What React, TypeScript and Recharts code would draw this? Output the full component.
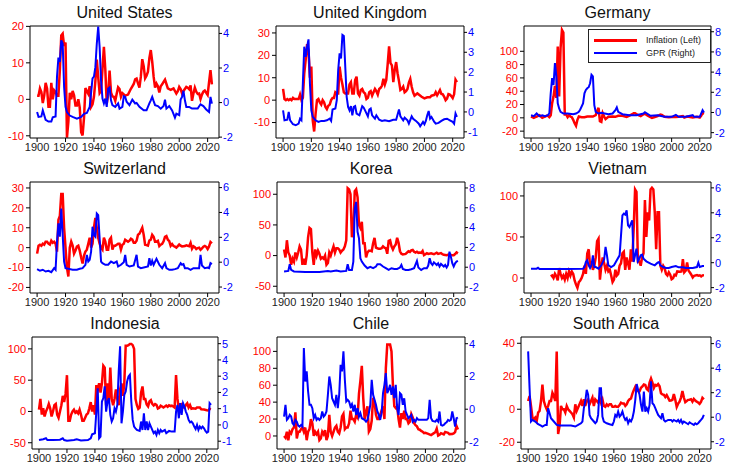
import React from 'react'
import { LineChart, Line, XAxis, YAxis, ReferenceLine } from 'recharts'

type Pt = [number, number]

const FONT = '"Liberation Sans", Arial, sans-serif'
const YEAR_TICKS = [1900, 1920, 1940, 1960, 1980, 2000, 2020]
const YEAR_DOMAIN: [number, number] = [1895, 2028]

// ---- United States ----
const usInflation: Pt[] = [[1900,1],[1901,1],[1902,3],[1903,2],[1904,-1],[1905,1],[1906,4.5],[1907,3],[1908,-2],[1909,-2],[1910,4.5],[1911,0],[1912,2.5],[1913,2],[1914,1],[1915,1],[1916,8],[1917,17.5],[1918,18],[1919,14.6],[1920,15.6],[1921,-10.5],[1922,-6.1],[1923,1.8],[1924,0],[1925,2.3],[1926,1.1],[1927,-1.7],[1928,-1.7],[1929,0],[1930,-2.3],[1931,-9],[1932,-9.9],[1933,-5.1],[1934,3.1],[1935,2.2],[1936,1.5],[1937,3.6],[1938,-2.1],[1939,-1.4],[1940,0.7],[1941,5],[1942,10.9],[1943,6.1],[1944,1.7],[1945,2.3],[1946,8.3],[1947,14.4],[1948,8.1],[1949,-1.2],[1950,1.3],[1951,7.9],[1952,1.9],[1953,0.8],[1954,0.7],[1955,-0.4],[1956,1.5],[1957,3.3],[1958,2.8],[1959,0.7],[1960,1.7],[1962,1],[1964,1.3],[1966,2.9],[1968,4.2],[1969,5.5],[1970,5.7],[1971,4.4],[1972,3.2],[1973,6.2],[1974,11],[1975,9.1],[1976,5.8],[1977,6.5],[1978,7.6],[1979,11.3],[1980,13.5],[1981,10.3],[1982,6.2],[1983,3.2],[1984,4.3],[1985,3.6],[1986,1.9],[1987,3.6],[1988,4.1],[1989,4.8],[1990,5.4],[1991,4.2],[1992,3],[1994,2.6],[1996,3],[1998,1.6],[1999,2.2],[2000,3.4],[2001,2.8],[2002,1.6],[2003,2.3],[2005,3.4],[2006,3.2],[2007,2.8],[2008,3.8],[2009,-0.4],[2010,1.6],[2011,3.2],[2012,2.1],[2013,1.5],[2014,1.6],[2015,0.1],[2016,1.3],[2017,2.1],[2018,2.4],[2019,1.8],[2020,1.2],[2021,4.7],[2022,8],[2023,4.1]]
const usGpr: Pt[] = [[1900,-0.54],[1901,-0.83],[1903,-0.8],[1904,-0.45],[1906,-1],[1908,-1.1],[1910,-1.1],[1911,-0.85],[1913,-0.8],[1914,1.5],[1915,2.6],[1916,2.35],[1917,3.6],[1918,3.4],[1919,0.9],[1920,-0.25],[1921,-0.55],[1923,-0.75],[1925,-0.83],[1928,-0.93],[1931,-0.83],[1933,-0.65],[1935,-0.6],[1937,-0.25],[1939,1.4],[1940,1.5],[1941,2.05],[1942,3.4],[1943,4.4],[1944,3.2],[1945,1.3],[1946,0.23],[1947,-0.05],[1948,0.23],[1949,-0.25],[1950,0.8],[1951,0.87],[1952,0.13],[1953,-0.15],[1955,-0.25],[1957,-0.05],[1958,-0.35],[1960,-0.25],[1961,0.37],[1962,0.33],[1963,0.05],[1965,-0.15],[1967,0.17],[1969,-0.05],[1970,-0.02],[1972,-0.25],[1975,-0.45],[1977,-0.45],[1979,-0.05],[1980,0.13],[1981,0.33],[1982,0.08],[1983,-0.15],[1985,-0.2],[1987,-0.35],[1989,-0.2],[1990,0.17],[1991,-0.35],[1993,-0.2],[1995,-0.45],[1997,-0.87],[1998,-0.64],[2000,-0.73],[2001,0.17],[2002,0.33],[2003,0.68],[2004,0.13],[2005,-0.25],[2007,-0.25],[2009,-0.35],[2011,-0.35],[2013,-0.35],[2015,-0.1],[2017,-0.2],[2019,-0.4],[2021,-0.54],[2022,0.33],[2023,-0.06]]

// ---- United Kingdom ----
const ukInflation: Pt[] = [[1900,5],[1901,0.5],[1902,0],[1903,0.5],[1904,0],[1905,0.5],[1906,0],[1907,1],[1908,0.5],[1909,0.5],[1910,0.5],[1911,0.5],[1912,2.5],[1913,0],[1914,1],[1915,12],[1916,18],[1917,25],[1918,22],[1919,10],[1920,15],[1921,-9],[1922,-14],[1923,-6],[1924,0],[1925,0.5],[1926,-1],[1927,-2],[1928,0],[1929,-1],[1930,-3],[1931,-4],[1932,-2.5],[1933,-2],[1934,0],[1935,1],[1936,1],[1937,3.5],[1938,3],[1939,3],[1940,15],[1941,10],[1942,7],[1943,3.5],[1944,3],[1945,3],[1946,3],[1947,7],[1948,8],[1949,3],[1950,3],[1951,9],[1952,10.5],[1953,3],[1954,2],[1955,4.5],[1956,5],[1957,3.5],[1958,3],[1959,0.5],[1960,1],[1961,3.5],[1962,4],[1963,2],[1964,3.5],[1965,5],[1966,4],[1967,2.5],[1968,5],[1969,5.5],[1970,6.5],[1971,9.5],[1972,7],[1973,9],[1974,16],[1975,24],[1976,16.5],[1977,15.5],[1978,8],[1979,13.5],[1980,17],[1981,12],[1982,8.5],[1983,4.5],[1984,5],[1985,6],[1986,3.5],[1987,4],[1988,5],[1989,7.8],[1990,9.5],[1991,6],[1992,3.5],[1993,2],[1994,2.5],[1995,3],[1996,2.5],[1998,1.5],[2000,0.8],[2002,1.3],[2004,1.3],[2005,2],[2007,2.3],[2008,3.6],[2009,2.2],[2010,3.3],[2011,4.5],[2012,2.8],[2013,2.6],[2014,1.5],[2015,0],[2016,0.7],[2017,2.7],[2018,2.5],[2019,1.8],[2020,0.9],[2021,2.6],[2022,9.1],[2023,8]]
const ukGpr: Pt[] = [[1900,0.08],[1901,-0.42],[1903,-0.39],[1904,0],[1905,-0.42],[1907,-0.62],[1909,-0.67],[1911,-0.59],[1912,-0.34],[1913,-0.42],[1914,1.43],[1915,3.28],[1916,2.77],[1917,3.28],[1918,3.65],[1919,1.43],[1920,0.08],[1921,-0.25],[1923,-0.42],[1925,-0.5],[1927,-0.45],[1929,-0.45],[1931,-0.42],[1933,-0.34],[1934,-0.45],[1935,0.12],[1937,0.17],[1938,0.59],[1939,2.1],[1940,2.94],[1941,2.69],[1942,3.87],[1943,3.82],[1944,2.27],[1945,0.76],[1946,0.25],[1947,0.08],[1948,0.29],[1949,-0.17],[1950,0.25],[1951,0.29],[1952,-0.08],[1954,-0.17],[1956,0.29],[1957,0.22],[1958,0.08],[1960,-0.22],[1961,0.12],[1962,0.17],[1963,-0.17],[1965,-0.34],[1966,-0.17],[1968,-0.39],[1970,-0.45],[1972,-0.42],[1975,-0.47],[1978,-0.39],[1980,-0.39],[1982,0.12],[1983,-0.22],[1985,-0.42],[1986,-0.29],[1988,-0.42],[1989,-0.59],[1991,-0.22],[1992,-0.34],[1994,-0.45],[1996,-0.59],[1997,-0.72],[1999,-0.5],[2000,-0.62],[2001,-0.45],[2002,-0.17],[2003,0.05],[2004,-0.34],[2005,-0.25],[2007,-0.5],[2008,-0.59],[2010,-0.55],[2012,-0.45],[2014,-0.37],[2016,-0.34],[2018,-0.42],[2020,-0.5],[2021,-0.59],[2022,-0.08],[2023,-0.25]]

// ---- Germany ----
const deInflation: Pt[] = [[1900,2],[1901,1],[1902,0],[1903,1],[1904,2],[1905,3],[1906,4],[1907,2],[1908,0],[1909,1],[1910,2],[1911,3],[1912,3],[1913,1],[1914,4],[1915,22],[1916,32],[1917,48],[1918,30],[1919,107],[1920,32],[1921,105],[1922,132],[1923,128],[1924,5],[1925,5],[1926,1],[1927,4],[1928,2],[1929,1],[1930,-3],[1931,-8],[1932,-12],[1933,-3],[1934,2],[1936,1],[1938,1],[1940,2],[1942,2],[1944,2],[1946,4],[1947,10],[1948,15],[1949,-5],[1950,-6],[1951,7],[1952,2],[1953,-2],[1955,1.5],[1958,2],[1960,1.5],[1962,3],[1965,3.2],[1968,1.5],[1970,3.5],[1972,5.5],[1973,7],[1974,7],[1976,4.3],[1978,2.7],[1980,5.4],[1981,6.3],[1983,3.3],[1986,-0.1],[1988,1.2],[1990,2.7],[1992,5],[1993,4.5],[1995,1.7],[1998,1],[2000,1.4],[2003,1.1],[2005,1.5],[2008,2.6],[2009,0.3],[2011,2],[2015,0.5],[2018,1.7],[2020,0.5],[2021,3.1],[2022,6.9],[2023,5.9]]
const deGpr: Pt[] = [[1900,-0.27],[1902,-0.37],[1904,-0.1],[1906,-0.37],[1908,-0.27],[1910,-0.37],[1912,-0.27],[1913,-0.1],[1914,1.9],[1915,3.4],[1916,2.73],[1917,4.9],[1918,3.57],[1919,0.9],[1920,0.4],[1921,0.07],[1923,-0.1],[1926,-0.1],[1930,-0.17],[1932,-0.1],[1934,0.07],[1935,0.3],[1937,0.9],[1938,1.9],[1939,2.23],[1940,2.4],[1941,2.5],[1942,2.9],[1943,3.73],[1944,3.57],[1945,0.73],[1946,0.07],[1948,-0.1],[1950,-0.03],[1955,-0.17],[1958,-0.1],[1960,0.23],[1961,0.5],[1962,0.07],[1965,-0.17],[1970,-0.27],[1975,-0.27],[1980,-0.1],[1981,0.03],[1985,-0.33],[1990,-0.27],[1995,-0.43],[2000,-0.43],[2003,-0.23],[2005,-0.43],[2010,-0.43],[2015,-0.27],[2016,-0.43],[2020,-0.43],[2022,0.23],[2023,0]]

// ---- Switzerland ----
const chInflation: Pt[] = [[1900,-3],[1901,1],[1902,1.5],[1903,1],[1904,2],[1905,1.5],[1906,3],[1907,3],[1908,2],[1909,1.5],[1910,3.5],[1911,2.5],[1912,3],[1913,2],[1914,-2],[1915,14],[1916,16],[1917,27],[1918,27],[1919,10],[1920,0],[1921,-10],[1922,-14.5],[1923,0],[1924,3],[1925,1],[1926,-3],[1927,-1.5],[1928,0.5],[1929,1],[1930,-1.5],[1931,-5],[1932,-8],[1933,-4],[1934,-2],[1935,-1],[1936,2],[1937,5],[1938,0],[1939,2],[1940,10],[1941,15],[1942,10],[1943,5],[1944,2],[1945,0],[1946,-1],[1947,5],[1948,3],[1949,-1],[1950,-1],[1951,4],[1952,5],[1953,-1],[1954,1],[1955,1],[1956,1.5],[1957,2],[1958,2],[1959,-1],[1960,1.5],[1961,2],[1962,4],[1963,3.5],[1964,3],[1965,3.5],[1966,4.5],[1967,4],[1968,2.5],[1969,2.5],[1970,3.5],[1971,6.5],[1972,7],[1973,8.5],[1974,10],[1975,6.5],[1976,1.5],[1977,1.3],[1978,1],[1979,3.6],[1980,4],[1981,6.5],[1982,5.5],[1983,3],[1984,3],[1985,3.4],[1986,0.8],[1987,1.5],[1988,1.9],[1989,3.2],[1990,5.4],[1991,5.8],[1992,4],[1993,3.3],[1994,0.9],[1995,1.8],[1996,0.8],[1997,0.5],[1998,0],[1999,0.8],[2000,1.6],[2001,1],[2002,0.6],[2004,0.8],[2005,1.2],[2007,0.7],[2008,2.4],[2009,-0.5],[2010,0.7],[2011,0.2],[2012,-0.7],[2013,-0.2],[2014,0],[2015,-1.1],[2016,-0.4],[2017,0.5],[2018,0.9],[2019,0.4],[2020,-0.7],[2021,0.6],[2022,2.8],[2023,2.1]]
const chGpr: Pt[] = [[1900,-0.56],[1902,-0.69],[1904,-0.61],[1906,-0.75],[1908,-0.69],[1910,-0.8],[1912,-0.48],[1913,-0.61],[1914,1.6],[1915,3.12],[1916,2.05],[1917,4.32],[1918,2.19],[1919,0.05],[1920,-0.48],[1922,-0.53],[1925,-0.61],[1928,-0.61],[1930,-0.53],[1932,-0.48],[1934,-0.21],[1935,0.59],[1936,0.05],[1937,0.19],[1938,0.85],[1939,2.85],[1940,2.19],[1941,2.05],[1942,3.92],[1943,3.79],[1944,1.92],[1945,0.05],[1946,-0.08],[1948,-0.21],[1950,-0.21],[1952,0.05],[1954,-0.08],[1956,0.05],[1957,-0.35],[1959,-0.21],[1961,0],[1962,0.59],[1963,-0.21],[1965,-0.35],[1968,-0.27],[1970,0.59],[1971,-0.35],[1973,-0.48],[1975,-0.43],[1978,-0.35],[1979,0.32],[1980,-0.27],[1981,0.11],[1982,-0.21],[1984,0.27],[1986,-0.21],[1988,-0.48],[1990,-0.08],[1991,-0.48],[1993,-0.61],[1995,-0.61],[1997,-0.56],[1999,-0.48],[2001,-0.08],[2002,-0.21],[2003,-0.16],[2004,-0.48],[2006,-0.48],[2008,-0.61],[2010,-0.48],[2012,-0.48],[2014,-0.48],[2015,0.59],[2016,-0.27],[2018,-0.48],[2020,-0.43],[2021,-0.48],[2022,-0.08],[2023,-0.16]]

// ---- Korea ----
const krInflation: Pt[] = [[1900,10],[1901,-3],[1902,25],[1903,5],[1904,0],[1905,-15],[1906,-5],[1907,-10],[1908,5],[1909,-3],[1910,5],[1911,15],[1912,10],[1913,-15],[1914,-5],[1915,-15],[1916,0],[1917,30],[1918,45],[1919,43],[1920,5],[1921,-15],[1922,10],[1923,0],[1924,8],[1925,3],[1926,-5],[1927,-3],[1928,-5],[1929,0],[1930,-15],[1931,-12],[1932,5],[1933,0],[1934,8],[1935,15],[1936,5],[1937,12],[1938,12],[1939,10],[1940,5],[1941,8],[1942,10],[1943,15],[1944,25],[1945,110],[1946,108],[1947,100],[1948,30],[1949,40],[1950,105],[1951,108],[1952,95],[1953,50],[1954,45],[1955,55],[1956,20],[1957,20],[1958,-3],[1959,5],[1960,8],[1961,8],[1962,7],[1963,20],[1964,29],[1965,13],[1966,12],[1967,11],[1968,11],[1969,12],[1970,15],[1971,13],[1972,12],[1973,3],[1974,24],[1975,25],[1976,15],[1977,10],[1978,15],[1979,18],[1980,29],[1981,21],[1982,7],[1983,3],[1984,2],[1986,2.8],[1988,7],[1989,6],[1990,8.6],[1991,9.3],[1992,6.2],[1993,4.8],[1994,6.3],[1995,4.5],[1996,5],[1997,4.4],[1998,7.5],[1999,0.8],[2000,2.3],[2001,4],[2002,2.8],[2004,3.6],[2006,2.2],[2008,4.7],[2009,2.8],[2011,4],[2012,2.2],[2013,1.3],[2015,0.7],[2017,1.9],[2019,0.4],[2020,0.5],[2021,2.5],[2022,5.1],[2023,3.6]]
const krGpr: Pt[] = [[1900,-0.43],[1903,-0.37],[1904,0.3],[1905,-0.27],[1907,-0.43],[1915,-0.47],[1925,-0.47],[1931,-0.37],[1933,-0.43],[1937,-0.33],[1940,-0.43],[1944,-0.37],[1945,0.3],[1946,-0.27],[1948,-0.27],[1949,0.57],[1950,5.92],[1951,6.59],[1952,3.58],[1953,2.91],[1954,0.9],[1955,0.57],[1957,0.17],[1959,-0.1],[1961,0.03],[1963,-0.1],[1965,0.07],[1966,0.3],[1968,0.3],[1970,0.07],[1972,-0.1],[1974,-0.27],[1976,-0.1],[1978,-0.17],[1980,-0.17],[1982,-0.03],[1983,0.23],[1984,-0.17],[1986,-0.27],[1988,-0.27],[1990,-0.2],[1992,-0.1],[1994,0.64],[1995,-0.03],[1997,-0.27],[1999,-0.1],[2001,-0.1],[2002,0.17],[2003,0.9],[2004,0.4],[2005,0.23],[2006,0.5],[2008,0.23],[2009,0.4],[2010,0.07],[2011,0.33],[2013,0.07],[2014,0.23],[2015,-0.03],[2016,0.23],[2017,1.57],[2018,1.07],[2019,0.4],[2020,0.07],[2021,0.4],[2022,0.57],[2023,0.64]]

// ---- Vietnam ----
const vnInflation: Pt[] = [[1914,2],[1915,3],[1916,0],[1917,5],[1918,2],[1919,-3],[1920,12],[1921,5],[1922,0],[1923,3],[1924,-2],[1925,5],[1926,0],[1927,8],[1928,3],[1929,8],[1930,5],[1931,-3],[1932,-8],[1933,-12],[1934,-5],[1935,-3],[1936,0],[1937,5],[1938,15],[1939,5],[1940,30],[1941,35],[1942,15],[1943,20],[1944,10],[1945,15],[1946,25],[1947,45],[1948,48],[1949,-2],[1950,15],[1951,25],[1952,18],[1953,10],[1954,15],[1955,8],[1956,10],[1957,3],[1958,-5],[1959,-2],[1960,10],[1961,3],[1962,5],[1963,15],[1964,18],[1965,30],[1966,32],[1967,10],[1968,25],[1969,18],[1970,10],[1971,35],[1972,20],[1973,60],[1974,108],[1975,105],[1976,20],[1977,20],[1978,15],[1979,25],[1980,30],[1981,95],[1982,50],[1983,80],[1984,70],[1985,108],[1986,110],[1987,108],[1988,80],[1989,35],[1990,80],[1991,80],[1992,15],[1993,10],[1994,15],[1995,12],[1996,5],[1997,3],[1998,7],[1999,4],[2000,-1.6],[2001,-0.4],[2002,4],[2003,3],[2004,8],[2006,7.5],[2007,8],[2008,23],[2009,7],[2010,9],[2011,19],[2012,9],[2013,6.6],[2014,4],[2015,0.6],[2016,2.7],[2018,3.5],[2019,2.8],[2020,3.2],[2021,1.8],[2022,3.2],[2023,3.3]]
const vnGpr: Pt[] = [[1900,-0.48],[1904,-0.48],[1905,-0.4],[1906,-0.5],[1915,-0.5],[1925,-0.5],[1937,-0.48],[1938,-0.35],[1939,0.05],[1940,0.19],[1941,-0.21],[1942,-0.43],[1943,-0.21],[1944,0.59],[1945,-0.35],[1946,-0.35],[1948,-0.48],[1950,-0.21],[1952,0.27],[1953,1.26],[1954,0.59],[1955,-0.21],[1957,-0.35],[1959,-0.21],[1961,0.19],[1963,0.59],[1964,2.19],[1965,3.8],[1966,3.93],[1967,3.85],[1968,4.2],[1969,2.99],[1970,2.86],[1971,3.13],[1972,3.4],[1973,0.05],[1974,0.59],[1975,1.12],[1976,0.11],[1977,0.32],[1978,0.59],[1979,0.64],[1980,0.32],[1982,0.11],[1985,-0.08],[1988,-0.21],[1990,0],[1991,0.05],[1992,-0.21],[1994,-0.35],[1996,-0.43],[1998,-0.43],[2000,-0.35],[2003,-0.27],[2005,-0.37],[2008,-0.37],[2010,-0.43],[2012,-0.43],[2015,-0.43],[2018,-0.35],[2019,0],[2020,-0.35],[2022,-0.27],[2023,-0.27]]

// ---- Indonesia ----
const idInflation: Pt[] = [[1900,3],[1901,20],[1902,-5],[1903,5],[1904,-8],[1905,0],[1906,5],[1907,12],[1908,5],[1909,-8],[1910,0],[1911,10],[1912,12],[1913,-5],[1914,-10],[1915,0],[1916,10],[1917,25],[1918,15],[1919,28],[1920,58],[1921,-15],[1922,-15],[1923,-5],[1924,0],[1925,3],[1926,-2],[1927,0],[1928,-3],[1929,3],[1930,-5],[1931,-15],[1932,-15],[1933,-10],[1934,-5],[1935,-3],[1936,5],[1937,15],[1938,0],[1939,10],[1940,-5],[1941,42],[1942,35],[1943,45],[1944,30],[1945,45],[1946,73],[1947,70],[1948,10],[1949,45],[1950,15],[1951,70],[1952,20],[1953,10],[1954,20],[1955,35],[1956,20],[1957,10],[1958,35],[1959,45],[1960,25],[1961,45],[1962,105],[1963,105],[1964,106],[1965,108],[1966,108],[1967,106],[1968,100],[1969,20],[1970,10],[1971,4],[1972,6],[1973,30],[1974,40],[1975,20],[1976,20],[1977,11],[1978,8],[1979,16],[1980,18],[1981,12],[1982,9.5],[1983,11.8],[1984,10.5],[1985,4.7],[1986,5.8],[1987,9.3],[1988,8],[1989,6.4],[1990,7.8],[1991,9.4],[1992,7.5],[1993,9.7],[1994,8.5],[1995,9.4],[1996,8],[1997,6.2],[1998,58],[1999,20.5],[2000,3.7],[2001,11.5],[2002,11.9],[2003,6.8],[2004,6.1],[2005,10.5],[2006,13.1],[2007,6.4],[2008,10.2],[2009,4.4],[2010,5.1],[2012,4.3],[2013,6.4],[2015,6.4],[2016,3.5],[2018,3.2],[2020,2],[2021,1.6],[2022,4.2],[2023,3.7]]
const idGpr: Pt[] = [[1900,-0.93],[1903,-0.88],[1905,-0.82],[1906,-0.93],[1910,-0.93],[1915,-0.91],[1917,-0.82],[1918,-0.93],[1920,-0.97],[1925,-0.93],[1927,-0.88],[1930,-0.95],[1935,-0.93],[1937,-0.82],[1938,-0.58],[1940,-0.51],[1941,0.82],[1942,2.26],[1943,-0.82],[1944,-0.72],[1945,1.44],[1946,1.65],[1947,2.37],[1948,0.82],[1949,1.44],[1950,1.65],[1951,0.62],[1952,0.21],[1953,0.41],[1954,1.03],[1955,0.82],[1956,1.23],[1957,3.29],[1958,4.84],[1959,0.1],[1960,0.82],[1961,1.85],[1962,2.06],[1963,2.67],[1964,2.98],[1965,3.09],[1966,1.44],[1967,0.31],[1968,-0.1],[1969,-0.21],[1970,-0.31],[1972,-0.37],[1973,0.21],[1974,-0.31],[1975,0.72],[1976,-0.31],[1977,0.21],[1978,-0.31],[1979,0.1],[1980,-0.1],[1981,-0.31],[1982,-0.51],[1983,-0.41],[1984,-0.62],[1985,-0.31],[1986,-0.51],[1987,-0.31],[1988,-0.41],[1990,-0.31],[1991,-0.51],[1993,-0.37],[1995,-0.41],[1997,-0.41],[1998,0.82],[1999,1.23],[2000,0.41],[2001,1.34],[2002,0.62],[2003,1.34],[2004,1.13],[2005,0.82],[2006,0.62],[2007,0.31],[2008,0.16],[2009,0.21],[2010,0.1],[2011,-0.1],[2012,-0.25],[2013,0],[2014,-0.31],[2015,-0.1],[2016,-0.21],[2017,-0.1],[2018,-0.21],[2019,-0.37],[2020,-0.47],[2021,-0.41],[2022,1.34],[2023,1.23]]

// ---- Chile ----
const clInflation: Pt[] = [[1900,0],[1901,-2],[1902,5],[1903,-5],[1904,5],[1905,3],[1906,8],[1907,10],[1908,28],[1909,-3],[1910,5],[1911,5],[1912,8],[1913,10],[1914,5],[1915,10],[1916,-5],[1917,5],[1918,8],[1919,20],[1920,15],[1921,0],[1922,5],[1923,2],[1924,5],[1925,-5],[1926,-3],[1927,5],[1928,2],[1929,7],[1930,-5],[1931,0],[1932,25],[1933,5],[1934,0],[1935,5],[1936,10],[1937,12],[1938,5],[1939,3],[1940,10],[1941,23],[1942,26],[1943,8],[1944,10],[1945,10],[1946,15],[1947,30],[1948,20],[1949,20],[1950,17],[1951,25],[1952,22],[1953,50],[1954,65],[1955,83],[1956,45],[1957,20],[1958,28],[1959,35],[1960,5],[1961,8],[1962,18],[1963,45],[1964,40],[1965,25],[1966,20],[1967,20],[1968,25],[1969,30],[1970,35],[1971,20],[1972,80],[1973,108],[1974,108],[1975,108],[1976,100],[1977,60],[1978,35],[1979,33],[1980,35],[1981,20],[1982,10],[1983,27],[1984,20],[1985,30],[1986,20],[1987,20],[1988,15],[1989,17],[1990,26],[1991,22],[1992,15],[1993,12.7],[1994,11.4],[1995,8],[1996,7.4],[1997,6],[1998,5],[1999,3.3],[2000,3.8],[2002,2.5],[2004,1.1],[2006,3.4],[2007,4.4],[2008,8.7],[2009,0.4],[2010,1.4],[2011,3.3],[2013,1.8],[2014,4.7],[2015,4.3],[2016,3.8],[2017,2.2],[2019,2.3],[2020,3],[2021,4.5],[2022,11.6],[2023,7.6]]
const clGpr: Pt[] = [[1900,-0.45],[1901,0.27],[1902,-0.65],[1903,-0.55],[1904,-0.35],[1905,-0.45],[1906,-0.86],[1907,-0.96],[1908,-0.65],[1909,-0.76],[1910,-1],[1911,-1.06],[1912,-0.96],[1913,-1.06],[1914,3.73],[1915,1.69],[1916,2.31],[1917,1.08],[1918,0.27],[1919,0.27],[1920,0.06],[1921,-0.55],[1922,-0.35],[1923,-0.65],[1924,-0.55],[1925,-0.65],[1926,-0.55],[1927,-0.14],[1928,-0.45],[1929,-0.35],[1930,-0.14],[1931,0.88],[1932,2],[1933,1.49],[1934,0.67],[1935,0.47],[1936,0.27],[1937,0.88],[1938,0.06],[1939,0.88],[1940,2.71],[1941,2.31],[1942,3.53],[1943,1.8],[1944,0.47],[1945,0.57],[1946,0.47],[1947,0.16],[1948,0.31],[1949,-0.14],[1950,0.27],[1951,-0.35],[1952,0.06],[1953,-0.45],[1954,-0.24],[1955,-0.55],[1957,-0.65],[1958,-0.76],[1959,-0.65],[1960,-0.24],[1961,0.27],[1962,1.8],[1963,0.88],[1964,0.57],[1965,0.27],[1966,-0.14],[1967,-0.35],[1968,-0.65],[1969,-0.24],[1970,0.98],[1971,1.49],[1972,2.2],[1973,0.98],[1974,1.18],[1975,1.49],[1976,0.88],[1977,1.39],[1978,0.67],[1979,1.49],[1980,0.06],[1981,-0.35],[1982,0.98],[1983,0.88],[1984,0.27],[1985,0.67],[1986,-0.14],[1987,-0.35],[1988,-0.55],[1989,-0.45],[1990,-0.35],[1991,-0.76],[1992,-0.65],[1993,-0.76],[1994,-0.55],[1995,-0.65],[1997,-0.65],[1999,-0.65],[2001,-0.65],[2002,-0.55],[2003,0.57],[2004,-0.55],[2005,-0.71],[2007,-0.76],[2008,-0.65],[2009,-0.76],[2010,-0.14],[2011,-0.96],[2012,-1],[2013,-0.96],[2014,-0.86],[2015,-0.8],[2016,-0.65],[2017,-0.71],[2018,-0.65],[2019,-0.14],[2020,-0.55],[2021,-1.06],[2022,-0.55],[2023,-0.51]]

// ---- South Africa ----
const zaInflation: Pt[] = [[1900,5],[1901,8],[1902,2],[1903,-5],[1904,-6],[1905,-5],[1906,-7],[1907,-2],[1908,-1],[1909,5],[1910,15],[1911,5],[1912,2],[1913,0],[1914,2],[1915,5],[1916,5],[1917,10],[1918,8],[1919,5],[1920,35],[1921,-15],[1922,-10],[1923,2],[1924,0],[1925,0],[1926,-2],[1927,2],[1928,0],[1929,-1],[1930,-2],[1931,-3],[1932,-5],[1933,3],[1934,-1],[1935,1],[1936,3],[1937,5],[1938,2],[1939,6],[1940,2],[1941,5],[1942,6],[1943,3],[1944,5],[1945,7],[1946,2],[1947,6],[1948,5],[1949,4],[1950,7],[1951,4],[1952,6],[1953,2],[1954,1.5],[1955,3],[1956,2],[1957,3],[1958,3],[1959,1.5],[1960,1.5],[1961,2],[1962,1.5],[1963,1.5],[1964,2.5],[1965,4],[1966,3.5],[1967,3.5],[1968,2],[1969,3],[1970,5],[1971,6],[1972,6.5],[1973,9.5],[1974,11.6],[1975,13.5],[1976,11],[1977,11],[1978,10.9],[1979,13],[1980,13.8],[1981,15],[1982,14.7],[1983,12.3],[1984,11.5],[1985,16.2],[1986,18.6],[1987,16.1],[1988,12.9],[1989,14.7],[1990,14.3],[1991,15.3],[1992,13.9],[1993,9.7],[1994,9],[1995,8.7],[1996,7.4],[1997,8.6],[1998,6.9],[1999,5.2],[2000,5.3],[2001,5.7],[2002,9.2],[2003,5.8],[2004,1.4],[2005,3.4],[2006,4.6],[2007,7.1],[2008,11],[2009,7.1],[2010,4.3],[2011,5],[2012,5.7],[2013,5.8],[2014,6.1],[2015,4.6],[2016,6.3],[2017,5.3],[2018,4.6],[2019,4.1],[2020,3.3],[2021,4.5],[2022,6.9],[2023,6]]
const zaGpr: Pt[] = [[1900,5.37],[1901,2.37],[1902,-0.35],[1903,-0.22],[1905,-0.35],[1907,-0.57],[1909,-0.68],[1910,-0.76],[1912,-0.63],[1913,-0.63],[1914,0.74],[1915,0.33],[1916,-0.08],[1918,-0.35],[1920,-0.63],[1922,-0.68],[1925,-0.68],[1930,-0.68],[1933,-0.76],[1935,-0.63],[1937,-0.49],[1938,-0.35],[1939,0.74],[1940,1.28],[1941,2.23],[1942,1.83],[1943,0.19],[1944,-0.08],[1946,-0.35],[1947,-0.49],[1948,-0.35],[1949,0.19],[1950,2.37],[1951,2.37],[1952,0.05],[1953,-0.35],[1955,-0.49],[1957,-0.57],[1959,-0.63],[1960,-0.35],[1961,0.19],[1962,0.05],[1963,0.46],[1964,0.05],[1965,0.19],[1966,0.46],[1967,0.05],[1968,-0.22],[1969,-0.08],[1970,-0.49],[1971,-0.22],[1972,-0.35],[1973,-0.08],[1974,0.46],[1975,1.42],[1976,2.7],[1977,2.23],[1978,1.83],[1979,1.01],[1980,0.46],[1981,2.1],[1982,0.46],[1983,0.74],[1984,0.46],[1985,1.01],[1986,2.92],[1987,1.14],[1988,1.01],[1989,0.74],[1990,0.46],[1991,0.19],[1992,0.05],[1993,-0.08],[1994,0.33],[1995,-0.22],[1996,-0.35],[1998,-0.22],[2000,-0.22],[2001,-0.35],[2002,-0.22],[2004,-0.35],[2005,-0.22],[2006,-0.41],[2007,-0.22],[2008,-0.49],[2009,-0.35],[2011,-0.49],[2012,-0.57],[2013,-0.41],[2014,-0.49],[2016,-0.63],[2017,-0.49],[2018,-0.57],[2019,-0.49],[2020,-0.35],[2021,-0.22],[2022,-0.08],[2023,0.19]]

interface PanelProps {
  title: string
  inflation: Pt[]
  gpr: Pt[]
  leftDomain: [number, number]
  leftTicks: number[]
  rightDomain: [number, number]
  rightTicks: number[]
  x: number
  y: number
  w: number
  h: number
}

const AX_L = 40
const AX_R = 30
const PAD_T = 8
const X_H = 22

const toRows = (pts: Pt[]) => pts.map(([year, v]) => ({ year, v }))

const Panel: React.FC<PanelProps> = ({ title, inflation, gpr, leftDomain, leftTicks, rightDomain, rightTicks, x, y, w, h }) => (
  <>
    <div
      style={{
        position: 'absolute',
        left: x,
        top: y - 21,
        width: w,
        textAlign: 'center',
        fontFamily: FONT,
        fontSize: 16,
        lineHeight: '16px',
        color: '#111',
      }}
    >
      {title}
    </div>
    <div style={{ position: 'absolute', left: x - AX_L, top: y - PAD_T }}>
      <LineChart width={AX_L + w + AX_R} height={PAD_T + h + X_H} margin={{ top: PAD_T, right: 0, bottom: 0, left: 0 }}>
        <XAxis
          type="number"
          dataKey="year"
          domain={YEAR_DOMAIN}
          ticks={YEAR_TICKS}
          interval={0}
          allowDataOverflow
          height={X_H}
          tickSize={4}
          tickMargin={1}
          stroke="#000"
          tick={{ fill: '#222', fontSize: 11, fontFamily: FONT }}
        />
        <YAxis
          yAxisId="l"
          orientation="left"
          domain={leftDomain}
          ticks={leftTicks}
          interval={0}
          allowDataOverflow
          width={AX_L}
          tickSize={4}
          tickMargin={2}
          stroke="#000"
          tick={{ fill: '#ff0000', fontSize: 11, fontFamily: FONT }}
        />
        <YAxis
          yAxisId="r"
          orientation="right"
          domain={rightDomain}
          ticks={rightTicks}
          interval={0}
          allowDataOverflow
          width={AX_R}
          tickSize={3}
          tickMargin={1}
          stroke="#000"
          tick={{ fill: '#0000ff', fontSize: 11, fontFamily: FONT }}
        />
        <ReferenceLine yAxisId="l" y={leftDomain[1]} stroke="#000" />
        <Line
          yAxisId="l"
          data={toRows(inflation)}
          dataKey="v"
          name="Inflation (Left)"
          type="linear"
          stroke="#ff0000"
          strokeWidth={2.5}
          dot={false}
          activeDot={false}
          isAnimationActive={false}
        />
        <Line
          yAxisId="r"
          data={toRows(gpr)}
          dataKey="v"
          name="GPR (Right)"
          type="linear"
          stroke="#0000ff"
          strokeWidth={2}
          dot={false}
          activeDot={false}
          isAnimationActive={false}
        />
      </LineChart>
    </div>
  </>
)

const LegendBox = () => (
  <div
    style={{
      position: 'absolute',
      left: 588,
      top: 29,
      width: 121,
      height: 32,
      border: '1px solid #222',
      background: '#fff',
      fontFamily: FONT,
      fontSize: 9,
      color: '#222',
    }}
  >
    {[
      { label: 'Inflation (Left)', color: '#ff0000', top: 10, thick: 3 },
      { label: 'GPR (Right)', color: '#0000ff', top: 23, thick: 2 },
    ].map((r) => (
      <React.Fragment key={r.label}>
        <div style={{ position: 'absolute', left: 5, top: r.top - r.thick / 2, width: 43, height: r.thick, background: r.color }} />
        <div style={{ position: 'absolute', left: 57, top: r.top - 6, lineHeight: '12px', whiteSpace: 'nowrap' }}>{r.label}</div>
      </React.Fragment>
    ))}
  </div>
)

export default function App() {
  return (
    <div style={{ position: 'absolute', left: 0, top: 0, width: 730, height: 465, background: '#fff', overflow: 'hidden' }}>
      <Panel title="United States" inflation={usInflation} gpr={usGpr} leftDomain={[-10.6, 20.1]} leftTicks={[-10, 0, 10, 20]} rightDomain={[-2.05, 4.43]} rightTicks={[-2, 0, 2, 4]} x={30} y={26} w={189} h={112} />
      <Panel title="United Kingdom" inflation={ukInflation} gpr={ukGpr} leftDomain={[-16.9, 33.1]} leftTicks={[-10, 0, 10, 20, 30]} rightDomain={[-1.31, 4.32]} rightTicks={[-1, 0, 1, 2, 3, 4]} x={276} y={26} w={188} h={112} />
      <Panel title="Germany" inflation={deInflation} gpr={deGpr} leftDomain={[-30.3, 138]} leftTicks={[-20, 0, 20, 40, 60, 80, 100]} rightDomain={[-2.53, 8.57]} rightTicks={[-2, 0, 2, 4, 6, 8]} x={524} y={26} w={187} h={112} />
      <Panel title="Switzerland" inflation={chInflation} gpr={chGpr} leftDomain={[-22.8, 33]} leftTicks={[-20, -10, 0, 10, 20, 30]} rightDomain={[-2.48, 6.45]} rightTicks={[-2, 0, 2, 4, 6]} x={30} y={182} w={189} h={111} />
      <Panel title="Korea" inflation={krInflation} gpr={krGpr} leftDomain={[-61, 120]} leftTicks={[-50, 0, 50, 100]} rightDomain={[-2.6, 8.6]} rightTicks={[-2, 0, 2, 4, 6, 8]} x={277} y={182} w={188} h={111} />
      <Panel title="Vietnam" inflation={vnInflation} gpr={vnGpr} leftDomain={[-18.3, 117]} leftTicks={[0, 50, 100]} rightDomain={[-2.43, 6.47]} rightTicks={[-2, 0, 2, 4, 6]} x={524} y={182} w={187} h={111} />
      <Panel title="Indonesia" inflation={idInflation} gpr={idGpr} leftDomain={[-60, 119]} leftTicks={[-50, 0, 50, 100]} rightDomain={[-1.48, 5.41]} rightTicks={[-1, 0, 1, 2, 3, 4, 5]} x={32} y={337} w={186} h={112} />
      <Panel title="Chile" inflation={clInflation} gpr={clGpr} leftDomain={[-15.4, 117]} leftTicks={[0, 20, 40, 60, 80, 100]} rightDomain={[-2.43, 4.41]} rightTicks={[-2, 0, 2, 4]} x={277} y={337} w={188} h={112} />
      <Panel title="South Africa" inflation={zaInflation} gpr={zaGpr} leftDomain={[-24.1, 43.8]} leftTicks={[-20, 0, 20, 40]} rightDomain={[-2.59, 6.54]} rightTicks={[-2, 0, 2, 4, 6]} x={521} y={337} w={190} h={112} />
      <LegendBox />
    </div>
  )
}
